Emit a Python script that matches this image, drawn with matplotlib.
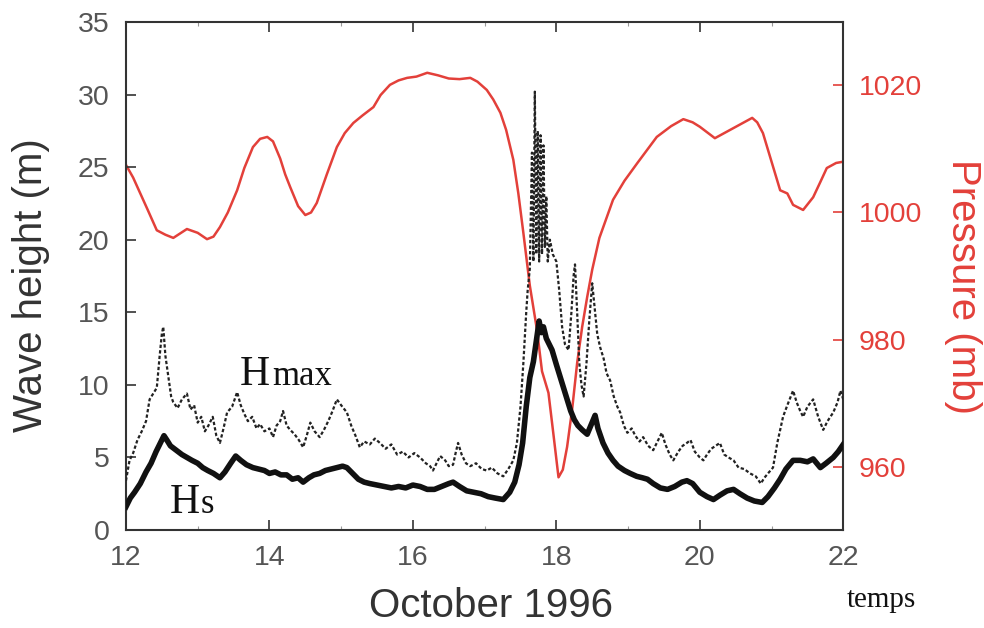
import matplotlib
matplotlib.use("Agg")
import matplotlib.pyplot as plt
from matplotlib.ticker import MultipleLocator

# sea level pressure (mb)
p_day = [12.0, 12.1, 12.2, 12.3, 12.43, 12.55, 12.66, 12.85, 13.0, 13.13,
         13.22, 13.31, 13.42, 13.55, 13.65, 13.77, 13.87, 13.97, 14.05, 14.15,
         14.22, 14.29, 14.4, 14.5, 14.58, 14.66, 14.8, 14.94, 15.05, 15.17,
         15.3, 15.45, 15.55, 15.68, 15.8, 15.92, 16.05, 16.2, 16.35, 16.5,
         16.65, 16.8, 16.9, 17.03, 17.12, 17.22, 17.3, 17.4, 17.47, 17.54,
         17.63, 17.73, 17.8, 17.89, 17.96, 18.03, 18.09, 18.15, 18.22, 18.29,
         18.36, 18.43, 18.5, 18.6, 18.79, 18.95, 19.13, 19.4, 19.6, 19.77,
         19.9, 20.0, 20.21, 20.47, 20.73, 20.8, 20.88, 21.0, 21.12, 21.22,
         21.3, 21.44, 21.58, 21.68, 21.77, 21.9, 22.0]
pressure = [1007.5, 1005.5, 1003.0, 1000.5, 997.2, 996.5, 996.0, 997.4, 996.8, 995.8,
            996.2, 997.7, 1000.0, 1003.5, 1007.0, 1010.3, 1011.6, 1011.9, 1011.2, 1008.5,
            1006.0, 1004.0, 1001.0, 999.6, 1000.0, 1001.5, 1006.0, 1010.3, 1012.5, 1014.1,
            1015.3, 1016.6, 1018.5, 1020.1, 1020.8, 1021.2, 1021.4, 1022.0, 1021.6, 1021.1,
            1021.0, 1021.2, 1020.6, 1019.3, 1017.8, 1015.7, 1013.0, 1008.3, 1003.0, 996.8,
            988.5, 981.5, 975.0, 971.6, 965.0, 958.3, 959.5, 963.1, 969.0, 976.3,
            982.0, 986.7, 991.0, 996.0, 1002.0, 1005.0, 1007.8, 1011.9, 1013.6, 1014.7,
            1014.2, 1013.5, 1011.7, 1013.3, 1014.9, 1014.2, 1012.5, 1008.0, 1003.5, 1003.0,
            1001.2, 1000.4, 1002.4, 1004.8, 1007.0, 1007.8, 1008.0]

# significant wave height Hs (m)
hs_day = [12.0, 12.06, 12.12, 12.2, 12.28, 12.35, 12.42, 12.48, 12.53, 12.57,
          12.62, 12.7, 12.78, 12.85, 12.92, 13.0, 13.07, 13.14, 13.22, 13.31,
          13.38, 13.46, 13.53, 13.6, 13.68, 13.77, 13.85, 13.93, 14.0, 14.08,
          14.16, 14.24, 14.32, 14.4, 14.47, 14.55, 14.62, 14.7, 14.78, 14.86,
          14.94, 15.02, 15.08, 15.16, 15.24, 15.32, 15.4, 15.5, 15.6, 15.7,
          15.8, 15.9, 16.0, 16.1, 16.2, 16.3, 16.4, 16.5, 16.56, 16.65,
          16.75, 16.85, 16.95, 17.05, 17.15, 17.26, 17.35, 17.42, 17.48, 17.53,
          17.58, 17.63, 17.68, 17.72, 17.76, 17.79, 17.82, 17.86, 17.9, 17.94,
          18.0, 18.05, 18.1, 18.15, 18.2, 18.25, 18.3, 18.36, 18.43, 18.48,
          18.54, 18.58, 18.65, 18.72, 18.79, 18.86, 18.95, 19.03, 19.12, 19.2,
          19.27, 19.35, 19.45, 19.55, 19.65, 19.75, 19.82, 19.9, 20.0, 20.1,
          20.19, 20.28, 20.38, 20.47, 20.56, 20.66, 20.76, 20.87, 20.95, 21.04,
          21.12, 21.2, 21.3, 21.4, 21.5, 21.58, 21.68, 21.76, 21.86, 21.93,
          22.0]
hs = [1.6, 2.2, 2.6, 3.2, 4.0, 4.6, 5.4, 6.0, 6.5, 6.2,
      5.8, 5.5, 5.2, 5.0, 4.8, 4.6, 4.3, 4.1, 3.9, 3.6,
      4.0, 4.6, 5.1, 4.8, 4.5, 4.3, 4.2, 4.1, 3.9, 4.0,
      3.8, 3.8, 3.5, 3.6, 3.3, 3.6, 3.8, 3.9, 4.1, 4.2,
      4.3, 4.4, 4.3, 3.9, 3.5, 3.3, 3.2, 3.1, 3.0, 2.9,
      3.0, 2.9, 3.1, 3.0, 2.8, 2.8, 3.0, 3.2, 3.3, 3.0,
      2.7, 2.6, 2.5, 2.3, 2.2, 2.1, 2.6, 3.3, 4.5, 6.0,
      8.5, 10.5, 11.6, 13.0, 14.4, 13.6, 14.0, 13.2, 12.8, 12.4,
      11.4, 10.6, 9.8, 9.0, 8.2, 7.6, 7.2, 6.9, 6.6, 7.2,
      7.9, 7.0, 6.0, 5.3, 4.8, 4.4, 4.1, 3.9, 3.7, 3.6,
      3.5, 3.2, 2.9, 2.8, 3.0, 3.3, 3.4, 3.2, 2.6, 2.3,
      2.1, 2.4, 2.7, 2.8, 2.5, 2.2, 2.0, 1.9, 2.3, 2.9,
      3.5, 4.2, 4.8, 4.8, 4.7, 4.9, 4.3, 4.6, 5.0, 5.4,
      5.9]

# maximum wave height Hmax (m)
hmax_day = [12.0, 12.05, 12.1, 12.16, 12.22, 12.28, 12.33, 12.38, 12.43, 12.47,
            12.5, 12.52, 12.55, 12.59, 12.63, 12.66, 12.72, 12.78, 12.85, 12.9,
            12.95, 13.0, 13.05, 13.1, 13.15, 13.21, 13.26, 13.31, 13.36, 13.41,
            13.48, 13.55, 13.6, 13.65, 13.7, 13.76, 13.82, 13.87, 13.93, 14.0,
            14.05, 14.1, 14.15, 14.19, 14.24, 14.29, 14.35, 14.41, 14.47, 14.52,
            14.57, 14.63, 14.7, 14.76, 14.82, 14.88, 14.94, 15.0, 15.08, 15.14,
            15.2, 15.26, 15.32, 15.4, 15.47, 15.54, 15.62, 15.7, 15.78, 15.86,
            15.94, 16.02, 16.1, 16.18, 16.24, 16.28, 16.33, 16.38, 16.45, 16.5,
            16.56, 16.6, 16.63, 16.68, 16.74, 16.8, 16.88, 16.96, 17.03, 17.1,
            17.18, 17.26, 17.33, 17.4, 17.45, 17.5, 17.54, 17.58, 17.6, 17.63,
            17.66, 17.68, 17.7, 17.72, 17.74, 17.76, 17.78, 17.8, 17.82, 17.84,
            17.86, 17.88, 17.91, 17.95, 18.0, 18.04, 18.08, 18.12, 18.17, 18.21,
            18.24, 18.26, 18.29, 18.32, 18.35, 18.38, 18.42, 18.46, 18.5, 18.53,
            18.57, 18.61, 18.66, 18.7, 18.75, 18.8, 18.85, 18.89, 18.94, 18.99,
            19.05, 19.1, 19.16, 19.21, 19.28, 19.35, 19.41, 19.47, 19.52, 19.58,
            19.63, 19.7, 19.76, 19.82, 19.87, 19.93, 20.0, 20.05, 20.1, 20.16,
            20.22, 20.28, 20.34, 20.4, 20.47, 20.54, 20.62, 20.7, 20.78, 20.85,
            20.9, 20.95, 21.02, 21.08, 21.16, 21.22, 21.3, 21.35, 21.4, 21.44,
            21.5, 21.58, 21.65, 21.72, 21.78, 21.86, 21.92, 21.96, 22.0]
hmax = [3.4, 4.8, 5.3, 6.2, 6.8, 7.5, 9.0, 9.4, 9.8, 12.0,
        13.5, 14.0, 12.0, 10.6, 9.2, 8.8, 8.4, 9.0, 9.4, 8.3,
        8.6, 7.4, 7.8, 6.8, 7.2, 7.8, 6.5, 6.0, 7.0, 8.1,
        8.5, 9.5, 8.6, 8.0, 7.5, 7.8, 7.0, 7.3, 6.8, 7.0,
        6.4, 7.2, 7.5, 8.2, 7.2, 6.9, 6.6, 6.2, 5.7, 6.5,
        7.4, 6.8, 6.4, 6.9, 7.5, 8.2, 9.0, 8.6, 8.1, 7.2,
        6.5, 5.7, 6.1, 5.9, 6.3, 6.0, 5.6, 5.9, 5.2, 5.4,
        5.0, 5.3, 5.0, 4.6, 4.4, 4.1, 4.6, 5.1, 4.8, 4.4,
        4.5, 5.4, 6.0, 5.2, 4.6, 4.4, 4.6, 4.2, 4.1, 4.3,
        3.9, 3.7, 4.2, 4.8, 6.0, 8.5, 11.5, 15.0, 16.5, 18.0,
        26.0, 18.5, 30.2, 19.0, 27.5, 18.5, 27.2, 19.0, 26.5, 19.5,
        23.0, 18.5, 20.0, 19.0, 18.5, 16.5, 14.0, 12.8, 12.4, 15.0,
        17.5, 18.3, 15.0, 11.5, 10.0, 9.2, 11.5, 14.5, 17.0, 15.5,
        13.5, 12.6, 11.8, 10.8, 10.3, 9.2, 8.5, 8.1, 7.2, 6.7,
        7.0, 6.5, 6.1, 6.4, 5.8, 5.5, 6.1, 6.7, 5.9, 5.2,
        4.8, 5.4, 5.8, 6.0, 6.2, 5.4, 5.0, 4.8, 5.2, 5.6,
        5.8, 6.0, 5.2, 5.0, 4.8, 4.3, 4.2, 3.9, 3.7, 3.2,
        3.6, 3.9, 4.3, 6.0, 7.8, 8.6, 9.6, 8.8, 8.2, 7.8,
        8.5, 9.0, 7.8, 6.9, 7.5, 8.1, 8.8, 9.6, 9.0]

wave_ticks = [0, 5, 10, 15, 20, 25, 30, 35]
pres_ticks = [960, 980, 1000, 1020]
day_ticks = [12, 14, 16, 18, 20, 22]

red = "#e3403a"
dark = "#333333"
grey = "#555555"

plt.rcParams['font.family'] = ['Liberation Sans', 'DejaVu Sans']

fig = plt.figure(figsize=(9.84, 6.28), dpi=100)
ax = fig.add_axes([0.128, 0.156, 0.729, 0.809])
ax2 = ax.twinx()

ax2.plot(p_day, pressure, color=red, lw=1.8, zorder=1)
ax.plot(hmax_day, hmax, color="#222222", lw=1.6, ls=(0, (1.5, 1.0)), zorder=3)
ax.plot(hs_day, hs, color="#111111", lw=4.0, zorder=4)
ax.set_zorder(ax2.get_zorder() + 1)
ax.patch.set_visible(False)

ax.set_xlim(12, 22)
ax.set_ylim(0, 35)
ax2.set_ylim(950, 1030)
ax.set_xticks(day_ticks)
ax.xaxis.set_minor_locator(MultipleLocator(1))
ax.set_yticks(wave_ticks)
ax2.set_yticks(pres_ticks)

for sp in ax.spines.values():
    sp.set_color(dark)
    sp.set_linewidth(1.5)
for sp in ax2.spines.values():
    sp.set_visible(False)

ax.tick_params(axis='x', which='major', direction='in', length=7, width=1.2,
               top=True, color=dark, labelsize=20.5, labelcolor=grey, pad=11)
ax.tick_params(axis='x', which='minor', direction='in', length=3, width=0.8,
               top=True, color="#999999")
ax.tick_params(axis='y', direction='in', length=7, width=1.2, color=dark,
               labelsize=20.5, labelcolor=grey, pad=12)
ax2.tick_params(axis='y', direction='in', length=7, width=1.2, color=red,
                labelsize=20.5, labelcolor=red, pad=11)

ax.set_ylabel("Wave height (m)", fontsize=29, color=dark)
ax.yaxis.set_label_coords(-0.106, 0.482)
ax.set_xlabel("October 1996", fontsize=29, color=dark)
ax.xaxis.set_label_coords(0.509, -0.113)
ax2.set_ylabel("Pressure (mb)", fontsize=29, color=red, rotation=270, va='center')
ax2.yaxis.set_label_coords(1.167, 0.48)

serif = ['Liberation Serif', 'DejaVu Serif']
ax.text(13.59, 10.0, "H", fontsize=30, family=serif, color="#111111", va='baseline', zorder=5)
ax.text(14.04, 10.0, "max", fontsize=25, family=serif, color="#111111", va='baseline', zorder=5)
ax.text(12.61, 1.17, "H", fontsize=30, family=serif, color="#111111", va='baseline', zorder=5)
ax.text(13.04, 1.17, "s", fontsize=25, family=serif, color="#111111", va='baseline', zorder=5)
fig.text(0.861, 0.0334, "temps", fontsize=21, family=serif, color="#111111", va='baseline')

fig.savefig("out.png", dpi=100)
